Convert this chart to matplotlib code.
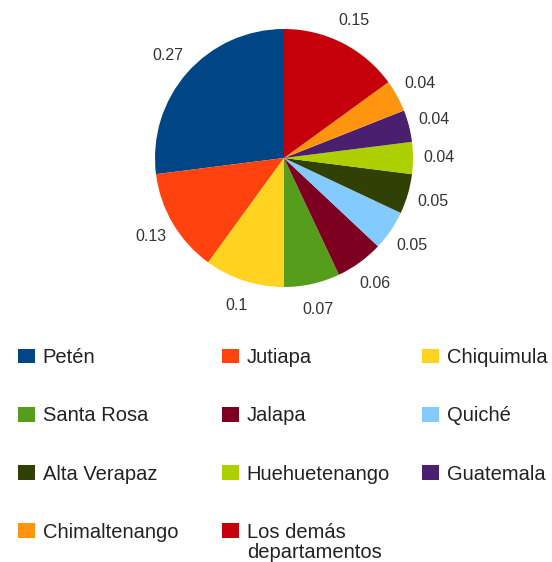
import matplotlib.pyplot as plt
from matplotlib.patches import Patch

plt.rcParams['font.family'] = ['Liberation Sans', 'DejaVu Sans']

# data
departamentos = ["Petén", "Jutiapa", "Chiquimula", "Santa Rosa", "Jalapa", "Quiché",
                 "Alta Verapaz", "Huehuetenango", "Guatemala", "Chimaltenango",
                 "Los demás departamentos"]
valores = [0.27, 0.13, 0.1, 0.07, 0.06, 0.05, 0.05, 0.04, 0.04, 0.04, 0.15]
colores = ["#004586", "#ff420e", "#ffd320", "#579d1c", "#7e0021", "#83caff",
           "#314004", "#aecf00", "#4b1f6f", "#ff950e", "#c5000b"]

W, H = 552, 562
fig = plt.figure(figsize=(W / 100, H / 100), dpi=100)

# pie: center (284,158) px, radius 129 px; pie sets limits to +-1.25
cx, cy, r = 284, 158, 129
half = 1.25 * r
ax = fig.add_axes([(cx - half) / W, (H - cy - half) / H, 2 * half / W, 2 * half / H])
wedges, texts = ax.pie(valores, colors=colores, startangle=90, counterclock=True,
                       labels=[f"{v:g}" for v in valores], labeldistance=1.2,
                       wedgeprops=dict(linewidth=0),
                       textprops=dict(fontsize=11.5, color="#333333"))
for t in texts:
    t.set_ha("center")
    t.set_va("center")
ax.set_aspect("equal")

# legend, filled row by row in three columns
# long names wrap after the second word, like the original
etiquetas = []
segunda_linea = {}
for i, d in enumerate(departamentos):
    partes = d.split(" ")
    if len(partes) > 2:
        etiquetas.append(" ".join(partes[:2]))
        segunda_linea[i] = " ".join(partes[2:])
    else:
        etiquetas.append(d)

fs = 14.5
handles = [Patch(facecolor=c, edgecolor="none") for c in colores]
col_x = [18, 222, 422]
legends = []
for j in range(3):
    idx = list(range(j, len(departamentos), 3))
    leg = fig.legend([handles[i] for i in idx], [etiquetas[i] for i in idx],
                     loc="upper left", bbox_to_anchor=(col_x[j] / W, 1 - 348 / H),
                     frameon=False, fontsize=fs, handlelength=0.85, handleheight=0.75,
                     handletextpad=0.38, labelspacing=1.95, borderaxespad=0,
                     borderpad=0)
    for t in leg.get_texts():
        t.set_color("#222222")
    legends.append((idx, leg))

# second line of wrapped names, placed under the legend text
fig.canvas.draw()
for idx, leg in legends:
    for k, t in zip(idx, leg.get_texts()):
        if k in segunda_linea:
            bb = t.get_window_extent()
            fig.text(bb.x0 / W, (bb.y0 - 1) / H, segunda_linea[k], ha="left", va="top",
                     fontsize=fs, color="#222222")

fig.savefig("out.png", dpi=100)
